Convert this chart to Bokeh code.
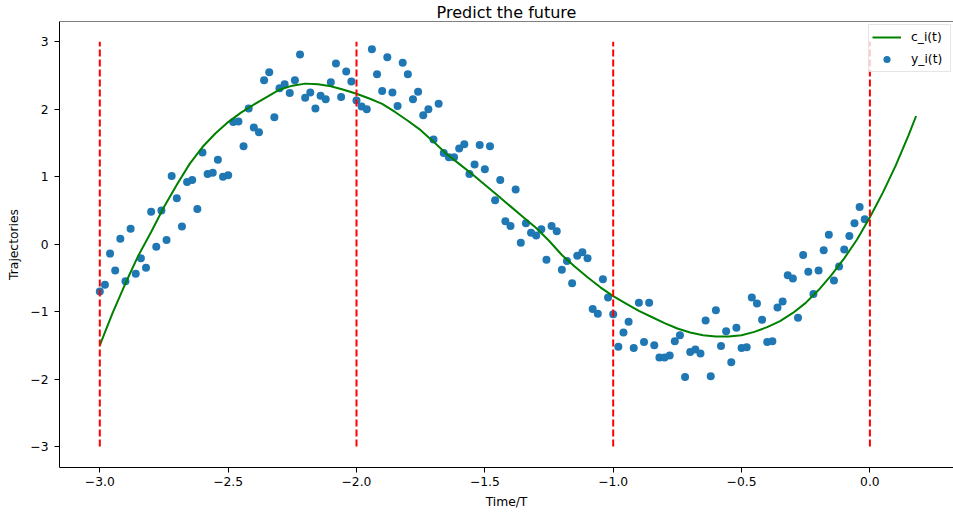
from bokeh.plotting import figure
from bokeh.models import (Range1d, FixedTicker, CustomJSTickFormatter,
                          Span, Legend, LegendItem)
from bokeh.embed import file_html
from bokeh.resources import INLINE

TITLE = "Predict the future"
X_LABEL = "Time/T"
Y_LABEL = "Trajectories"
x_ticks = [-3.0, -2.5, -2.0, -1.5, -1.0, -0.5, 0.0]
y_ticks = [-3, -2, -1, 0, 1, 2, 3]

# observed trajectory samples y_i(t)
t_obs = [-3.00, -2.98, -2.96, -2.94, -2.92, -2.90, -2.88, -2.86, -2.84, -2.82,
         -2.80, -2.78, -2.76, -2.74, -2.72, -2.70, -2.68, -2.66, -2.64, -2.62,
         -2.60, -2.58, -2.56, -2.54, -2.52, -2.50, -2.48, -2.46, -2.44, -2.42,
         -2.40, -2.38, -2.36, -2.34, -2.32, -2.30, -2.28, -2.26, -2.24, -2.22,
         -2.20, -2.18, -2.16, -2.14, -2.12, -2.10, -2.08, -2.06, -2.04, -2.02,
         -2.00, -1.98, -1.96, -1.94, -1.92, -1.90, -1.88, -1.86, -1.84, -1.82,
         -1.80, -1.78, -1.76, -1.74, -1.72, -1.70, -1.68, -1.66, -1.64, -1.62,
         -1.60, -1.58, -1.56, -1.54, -1.52, -1.50, -1.48, -1.46, -1.44, -1.42,
         -1.40, -1.38, -1.36, -1.34, -1.32, -1.30, -1.28, -1.26, -1.24, -1.22,
         -1.20, -1.18, -1.16, -1.14, -1.12, -1.10, -1.08, -1.06, -1.04, -1.02,
         -1.00, -0.98, -0.96, -0.94, -0.92, -0.90, -0.88, -0.86, -0.84, -0.82,
         -0.80, -0.78, -0.76, -0.74, -0.72, -0.70, -0.68, -0.66, -0.64, -0.62,
         -0.60, -0.58, -0.56, -0.54, -0.52, -0.50, -0.48, -0.46, -0.44, -0.42,
         -0.40, -0.38, -0.36, -0.34, -0.32, -0.30, -0.28, -0.26, -0.24, -0.22,
         -0.20, -0.18, -0.16, -0.14, -0.12, -0.10, -0.08, -0.06, -0.04, -0.02]
y_obs = [-0.70, -0.60, -0.14, -0.39, 0.08, -0.55, 0.23, -0.44, -0.21, -0.35,
         0.48, -0.04, 0.50, 0.06, 1.01, 0.68, 0.26, 0.92, 0.95, 0.52,
         1.36, 1.04, 1.06, 1.25, 1.00, 1.02, 1.81, 1.82, 1.45, 2.01,
         1.73, 1.66, 2.43, 2.55, 1.88, 2.31, 2.37, 2.24, 2.43, 2.81,
         2.17, 2.25, 2.01, 2.20, 2.15, 2.40, 2.68, 2.18, 2.56, 2.41,
         2.13, 2.04, 2.00, 2.89, 2.52, 2.27, 2.77, 2.25, 2.05, 2.69,
         2.52, 2.15, 2.26, 1.91, 2.00, 1.55, 2.08, 1.35, 1.29, 1.29,
         1.42, 1.48, 1.04, 1.18, 1.47, 1.11, 1.45, 0.65, 0.95, 0.34,
         0.27, 0.81, 0.02, 0.31, 0.17, 0.13, 0.22, -0.23, 0.27, 0.19,
         -0.38, -0.25, -0.58, -0.17, -0.12, -0.21, -0.96, -1.03, -0.52, -0.79,
         -1.04, -1.52, -1.31, -1.15, -1.54, -0.87, -1.45, -0.87, -1.50, -1.68,
         -1.68, -1.65, -1.44, -1.35, -1.97, -1.60, -1.56, -1.62, -1.13, -1.96,
         -0.98, -1.51, -1.29, -1.75, -1.24, -1.54, -1.53, -0.79, -0.88, -1.12,
         -1.45, -1.44, -0.94, -0.85, -0.46, -0.51, -1.09, -0.16, -0.41, -0.74,
         -0.39, -0.09, 0.14, -0.54, -0.33, -0.08, 0.12, 0.31, 0.55, 0.37]

# fitted / predicted curve c_i(t)
t_curve = [-3.00, -2.95, -2.90, -2.85, -2.80, -2.75, -2.70, -2.65, -2.60, -2.55,
           -2.50, -2.45, -2.40, -2.35, -2.30, -2.25, -2.20, -2.15, -2.10, -2.05,
           -2.00, -1.95, -1.90, -1.85, -1.80, -1.75, -1.70, -1.65, -1.60, -1.55,
           -1.50, -1.45, -1.40, -1.35, -1.30, -1.25, -1.20, -1.15, -1.10, -1.05,
           -1.00, -0.95, -0.90, -0.85, -0.80, -0.75, -0.70, -0.65, -0.60, -0.55,
           -0.50, -0.45, -0.40, -0.35, -0.30, -0.25, -0.20, -0.15, -0.10, -0.05,
           0.00, 0.05, 0.10, 0.15, 0.18]
c_curve = [-1.50, -1.02, -0.58, -0.17, 0.18, 0.55, 0.88, 1.19, 1.44, 1.64,
           1.81, 1.95, 2.07, 2.18, 2.29, 2.35, 2.38, 2.37, 2.34, 2.29,
           2.23, 2.16, 2.08, 1.96, 1.83, 1.69, 1.52, 1.34, 1.19, 1.04,
           0.88, 0.72, 0.56, 0.40, 0.24, 0.05, -0.16, -0.33, -0.49, -0.64,
           -0.77, -0.88, -0.99, -1.08, -1.17, -1.25, -1.31, -1.35, -1.37, -1.37,
           -1.35, -1.30, -1.23, -1.14, -1.02, -0.87, -0.68, -0.46, -0.21, 0.07,
           0.40, 0.76, 1.16, 1.61, 1.90]

# period boundaries (red dashed)
vline_x = [-3.0, -2.0, -1.0, 0.0]
vline_lo = [-3.0, -3.0, -3.0, -3.0]
vline_hi = [3.0, 3.0, 3.0, 3.0]

FONT = "DejaVu Sans"
FS = "12.3px"
Y_TOP = 3.301

p = figure(frame_width=894, frame_height=446,
           x_range=Range1d(-3.157, 0.3257), y_range=Range1d(-3.311, Y_TOP),
           output_backend="svg", toolbar_location=None,
           min_border_left=59, min_border_right=0, min_border_top=0,
           min_border_bottom=20)
p.outline_line_color = None
p.grid.visible = False
p.background_fill_color = "white"
p.border_fill_color = "white"

p.title.text = TITLE
p.title.align = "center"
p.title.text_font = FONT
p.title.text_font_size = "16px"
p.title.text_font_style = "normal"
p.title.text_color = "black"
p.title.standoff = 0

xa = p.xaxis[0]
xa.ticker = FixedTicker(ticks=x_ticks)
xa.formatter = CustomJSTickFormatter(code="return tick.toFixed(1).replace('-', '\u2212');")
xa.axis_label = X_LABEL
xa.major_label_standoff = 4
xa.axis_label_standoff = 6

ya = p.yaxis[0]
ya.ticker = FixedTicker(ticks=y_ticks)
ya.formatter = CustomJSTickFormatter(code="return tick.toFixed(0).replace('-', '\u2212');")
ya.axis_label = Y_LABEL
ya.major_label_standoff = 6
ya.axis_label_standoff = 6

for ax in (xa, ya):
    ax.major_tick_out = 5
    ax.major_tick_in = 0
    ax.minor_tick_out = 0
    ax.minor_tick_in = 0
    ax.axis_line_color = "black"
    ax.axis_line_width = 1
    ax.major_tick_line_color = "black"
    ax.major_label_text_font = FONT
    ax.major_label_text_font_size = FS
    ax.major_label_text_color = "black"
    ax.axis_label_text_font = FONT
    ax.axis_label_text_font_size = FS
    ax.axis_label_text_font_style = "normal"
    ax.axis_label_text_color = "black"

# top spine
p.add_layout(Span(location=Y_TOP, dimension="width", line_color="black", line_width=1))

sc = p.scatter(t_obs, y_obs, size=8, fill_color="#1f77b4", line_color=None)
ln = p.line(t_curve, c_curve, line_color="green", line_width=2)
p.segment(x0=vline_x, y0=vline_lo, x1=vline_x, y1=vline_hi,
          line_color="red", line_width=2, line_dash="7 3")

legend = Legend(items=[LegendItem(label="c_i(t)", renderers=[ln]),
                       LegendItem(label="y_i(t)", renderers=[sc])],
                location=(809, 395))
legend.label_text_font = FONT
legend.label_text_font_size = FS
legend.label_text_color = "black"
legend.glyph_width = 29
legend.glyph_height = 18
legend.label_height = 18
legend.label_width = 36
legend.label_standoff = 10
legend.spacing = 4
legend.padding = 3
legend.margin = 0
legend.border_line_color = "#cccccc"
legend.border_line_width = 1
legend.background_fill_color = "white"
legend.background_fill_alpha = 0.8
p.add_layout(legend)

open("out.html", "w").write(file_html(p, INLINE))
